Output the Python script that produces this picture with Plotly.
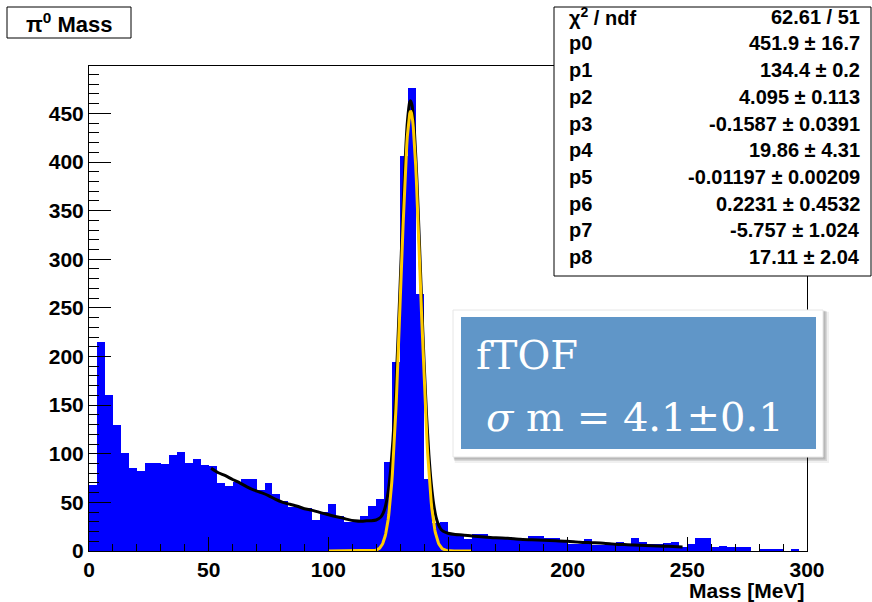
import numpy as np
import plotly.graph_objects as go

# ---------------- data ----------------
bin_width = 10.0 / 3.0          # 90 bins over 0-300 MeV
counts = [68, 215, 160, 130, 101, 85, 82, 91, 91, 89,
          99, 102, 90, 95, 88, 87, 70, 67, 71, 74,
          74, 63, 70, 59, 51, 45, 45, 44, 32, 40,
          48, 36, 30, 30, 36, 46, 53, 92, 194, 406,
          476, 264, 74, 29, 30, 18, 17, 12, 17, 17,
          14, 14, 14, 12, 12, 15, 15, 13, 13, 9,
          7, 7, 12, 6, 6, 6, 9, 7, 13, 9,
          7, 7, 8, 9, 4.5, 7, 13, 13, 4, 5.5,
          4, 4, 4, 0, 2.5, 2.5, 2.5, 0, 2, 0]

# fit parameters (stat box)
par_names = ["p0", "p1", "p2", "p3", "p4", "p5", "p6", "p7", "p8"]
par_vals = ["451.9", "134.4", "4.095", "-0.1587", "19.86", "-0.01197", "0.2231", "-5.757", "17.11"]
par_errs = ["16.7", "0.2", "0.113", "0.0391", "4.31", "0.00209", "0.4532", "1.024", "2.04"]
chi2_ndf = "62.61 / 51"
gaus_amp, gaus_mean, gaus_sigma = 451.9, 134.4, 4.095

# background part of the total fit
bkg_x = [51, 54, 57, 60, 63, 66, 69, 72, 75, 78, 81, 84, 87, 90, 93, 96, 99, 102, 105, 108,
         111, 114, 116, 118, 120, 121, 122, 123, 124, 125, 126, 127, 128, 129, 130, 131, 132,
         133, 134, 134.4, 135, 136, 137, 138, 139, 140, 141, 142, 143, 144, 145, 146, 147, 148,
         150, 153, 156, 160, 165, 170, 175, 180, 185, 190, 195, 200, 205, 210, 215, 220, 225,
         230, 235, 240, 244, 248]
bkg_y = [85, 80.5, 77.5, 73.5, 70, 66, 62.5, 60, 57, 53, 50, 48, 46, 43.5, 42, 40, 38, 36, 34.5, 32.5,
         31, 30.5, 31, 31, 31, 31, 30.5, 30, 29.5, 28.5, 27.5, 26, 24, 22, 20, 18, 16,
         14, 12, 11, 11, 11.5, 12.5, 14, 15.5, 17, 18, 19, 19.5, 19.5, 19, 19, 18.5, 18.5,
         18, 17, 16.5, 15.5, 14.5, 13.5, 13, 12, 11.5, 11, 10.5, 10, 9, 8.5, 8, 7, 6.5,
         6, 5.5, 5, 4.5, 4]
gaus_range = [100, 160]

x_ticks = [0, 50, 100, 150, 200, 250, 300]
y_ticks = [0, 50, 100, 150, 200, 250, 300, 350, 400, 450]

# ---------------- geometry helpers (pixels -> paper) ----------------
L, R, T, B = 89, 807, 66, 551
def px(x):
    return (x - L) / (R - L)
def py(y):
    return (B - y) / (B - T)

def gaus(x):
    x = np.asarray(x, dtype=float)
    return gaus_amp * np.exp(-0.5 * ((x - gaus_mean) / gaus_sigma) ** 2)

centers = [(i + 0.5) * bin_width for i in range(len(counts))]

fig = go.Figure()
fig.add_trace(go.Bar(x=centers, y=counts, width=bin_width,
                     marker=dict(color="#0000FF", line=dict(width=0)),
                     hoverinfo="x+y"))

total_y = gaus(bkg_x) + np.asarray(bkg_y)
fig.add_trace(go.Scatter(x=bkg_x, y=total_y, mode="lines",
                         line=dict(color="black", width=3, shape="spline", smoothing=0.6)))

gx = np.linspace(gaus_range[0], gaus_range[1], 241)
fig.add_trace(go.Scatter(x=gx, y=gaus(gx), mode="lines",
                         line=dict(color="#FFCC00", width=3)))

fnt = "Liberation Sans"
fig.update_layout(
    width=872, height=602,
    margin=dict(l=L, r=872 - R, t=T, b=602 - B),
    paper_bgcolor="white", plot_bgcolor="white",
    showlegend=False, bargap=0,
    font=dict(family=fnt, color="black"),
)
fig.update_xaxes(range=[0, 300], tickvals=x_ticks, ticks="inside", ticklen=14, tickwidth=1,
                 tickcolor="black", showgrid=False, zeroline=False,
                 showline=True, linecolor="black", linewidth=1, mirror=True,
                 tickfont=dict(family=fnt, size=21, weight="bold"),
                 minor=dict(dtick=10, ticks="inside", ticklen=7, tickcolor="black", tickwidth=1))
fig.update_yaxes(range=[0, 498.75], tickvals=y_ticks, ticks="inside", ticklen=22, tickwidth=1,
                 tickcolor="black", showgrid=False, zeroline=False,
                 showline=True, linecolor="black", linewidth=1, mirror=True,
                 tickfont=dict(family=fnt, size=21, weight="bold"),
                 minor=dict(dtick=10, ticks="inside", ticklen=10, tickcolor="black", tickwidth=1))

shapes = []
ann = []

# title box
shapes.append(dict(type="rect", xref="paper", yref="paper", x0=px(7), x1=px(131), y0=py(38), y1=py(7),
                   line=dict(color="black", width=1), fillcolor="white", layer="above"))
ann.append(dict(text="<b>π<sup>0</sup> Mass</b>", x=px(69), y=py(23), xref="paper", yref="paper",
                showarrow=False, xanchor="center", yanchor="middle",
                font=dict(family=fnt, size=22, color="black")))

# axis title
ann.append(dict(text="<b>Mass [MeV]</b>", x=px(807), y=py(590), xref="paper", yref="paper",
                showarrow=False, xanchor="right", yanchor="middle",
                font=dict(family=fnt, size=21, color="black")))

# stats box
shapes.append(dict(type="rect", xref="paper", yref="paper", x0=px(554), x1=px(871), y0=py(276), y1=py(7),
                   line=dict(color="black", width=1), fillcolor="white", layer="above"))
rows = [("χ<sup>2</sup> / ndf", chi2_ndf)] + [(n, f"{v} ± {e}") for n, v, e in zip(par_names, par_vals, par_errs)]
for i, (lab, val) in enumerate(rows):
    yc = 16.7 + 26.7 * i
    ann.append(dict(text=f"<b>{lab}</b>", x=px(567), y=py(yc), xref="paper", yref="paper",
                    showarrow=False, xanchor="left", yanchor="middle",
                    font=dict(family=fnt, size=20, color="black")))
    ann.append(dict(text=f"<b>{val}</b>", x=px(862), y=py(yc), xref="paper", yref="paper",
                    showarrow=False, xanchor="right", yanchor="middle",
                    font=dict(family=fnt, size=20, color="black")))

# fTOF callout: shadow, white frame, blue panel
for off, op in [(6, 0.06), (4, 0.10), (2.5, 0.14)]:
    shapes.append(dict(type="rect", xref="paper", yref="paper",
                       x0=px(453 + off * 0.3), x1=px(823 + off), y0=py(457 + off), y1=py(310 + off * 0.3),
                       line=dict(width=0), fillcolor=f"rgba(0,0,0,{op})", layer="above"))
shapes.append(dict(type="rect", xref="paper", yref="paper", x0=px(453), x1=px(823), y0=py(457), y1=py(310),
                   line=dict(color="#e6e6e6", width=1), fillcolor="white", layer="above"))
shapes.append(dict(type="rect", xref="paper", yref="paper", x0=px(461), x1=px(816), y0=py(449), y1=py(317),
                   line=dict(width=0), fillcolor="#6096C8", layer="above"))
ann.append(dict(text="fTOF", x=px(474), y=py(355), xref="paper", yref="paper",
                showarrow=False, xanchor="left", yanchor="middle",
                font=dict(family="DejaVu Serif", size=40, color="white")))
ann.append(dict(text="<i>σ</i> m = 4.1±0.1", x=px(484), y=py(417), xref="paper", yref="paper",
                showarrow=False, xanchor="left", yanchor="middle",
                font=dict(family="DejaVu Serif", size=40, color="white")))

fig.update_layout(shapes=shapes, annotations=ann)
fig.write_html("out.html", config={"displayModeBar": False},
               post_script="document.body.style.margin='0';document.body.style.overflow='hidden';")
